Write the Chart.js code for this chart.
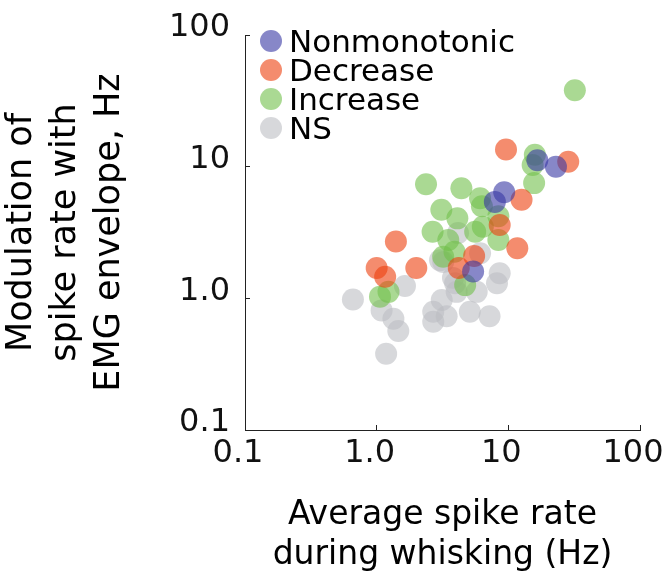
<!DOCTYPE html>
<html>
<head>
<meta charset="utf-8">
<script src="https://cdn.jsdelivr.net/npm/chart.js@4.4.1/dist/chart.umd.min.js"></script>
<style>
  html, body { margin: 0; padding: 0; background: #fff; }
  #wrap { position: relative; width: 666px; height: 586px; }
  #legend { position: absolute; left: 260px; top: 26px; font-family: "DejaVu Sans", sans-serif; font-size: 31px; color: #000; }
  .item { display: flex; align-items: center; height: 29px; }
  .dot { width: 22px; height: 22px; border-radius: 50%; margin-right: 7px; }
</style>
</head>
<body>
<div id="wrap">
  <canvas id="c"></canvas>
  <div id="legend"></div>
</div>
<script>
// ===== Data
const seriesNames = ['Nonmonotonic', 'Decrease', 'Increase', 'NS'];

const nonmonoX = [16.6, 23.0, 9.3, 7.9, 5.4];
const nonmonoY = [11.2, 10.0, 6.4, 5.4, 1.6];

const decreaseX = [9.6, 28.5, 12.6, 8.6, 11.7, 1.4, 2.0, 1.0, 1.16, 5.5, 4.2];
const decreaseY = [13.5, 10.9, 5.6, 3.6, 2.4, 2.7, 1.7, 1.7, 1.46, 2.1, 1.7];

const increaseX = [32, 15.9, 15.3, 15.7, 2.37, 4.4, 6.1, 6.3, 3.1, 4.1, 2.66, 3.5, 5.6, 8.4, 8.4, 6.4, 3.2, 3.9, 4.7, 1.23, 1.06];
const increaseY = [38, 12.3, 10.3, 7.5, 7.35, 6.85, 5.75, 5.0, 4.7, 4.05, 3.2, 2.77, 3.2, 4.2, 2.77, 3.5, 2.07, 2.26, 1.26, 1.12, 1.03];

const nsX = [0.66, 1.09, 1.34, 1.46, 1.18, 1.64, 3.12, 2.69, 3.4, 2.69, 5.1, 7.2, 5.75, 4.05, 3.94, 8.2, 8.6, 6.1, 4.15, 3.03, 3.8, 3.2];
const nsY = [0.98, 0.81, 0.70, 0.565, 0.38, 1.24, 0.97, 0.79, 0.73, 0.665, 0.79, 0.73, 1.12, 1.12, 1.30, 1.30, 1.55, 2.2, 3.13, 1.95, 1.43, 1.89];

const xTicks = [0.1, 1, 10, 100];
const xTickLabels = ['0.1', '1.0', '10', '100'];
const yTicks = [0.1, 1, 10, 100];
const yTickLabels = ['0.1', '1.0', '10', '100'];

const colors = ['rgba(55,55,163,0.6)', 'rgba(237,63,13,0.6)', 'rgba(113,192,75,0.6)', 'rgba(188,190,195,0.6)'];

// ===== Utils
const toPoints = (xs, ys) => xs.map((x, i) => ({ x, y: ys[i] }));
const FONT = '"DejaVu Sans", sans-serif';

const allX = [nonmonoX, decreaseX, increaseX, nsX];
const allY = [nonmonoY, decreaseY, increaseY, nsY];

const datasets = seriesNames.map((name, i) => ({
  label: name,
  data: toPoints(allX[i], allY[i]),
  backgroundColor: colors[i],
  borderWidth: 0,
  pointRadius: 11,
  pointHoverRadius: 11
}));

const ctx = document.getElementById('c').getContext('2d');
const chart = new Chart(ctx, {
  type: 'scatter',
  data: { datasets },
  options: {
    responsive: true,
    maintainAspectRatio: false,
    animation: false,
    layout: { padding: { left: 0, top: 35, right: 26, bottom: 0 } },
    plugins: { legend: { display: false }, tooltip: { enabled: false } },
    scales: {
      x: {
        type: 'logarithmic',
        min: 0.1, max: 100,
        afterBuildTicks: s => { s.ticks = xTicks.map(v => ({ value: v })); },
        afterFit: s => { s.height = 156; s.paddingLeft = 0; s.paddingRight = 0; },
        border: { display: true, color: '#222', width: 1 },
        grid: { drawOnChartArea: false, drawTicks: true, tickLength: -5, color: '#222', lineWidth: 1 },
        ticks: {
          autoSkip: false, maxRotation: 0, padding: 9, labelOffset: -7,
          color: '#111', font: { family: FONT, size: 32 },
          callback: (v) => xTickLabels[xTicks.indexOf(v)] ?? ''
        },
        title: {
          display: true,
          text: ['Average spike rate', 'during whisking (Hz)'],
          color: '#000',
          font: { family: FONT, size: 33, lineHeight: '40px' },
          padding: { top: 0, bottom: 11 }
        }
      },
      y: {
        type: 'logarithmic',
        min: 0.1, max: 100,
        afterBuildTicks: s => { s.ticks = yTicks.map(v => ({ value: v })); },
        afterFit: s => { s.width = 245; s.paddingTop = 0; s.paddingBottom = 0; },
        border: { display: true, color: '#222', width: 1 },
        grid: { drawOnChartArea: false, drawTicks: true, tickLength: -5, color: '#222', lineWidth: 1 },
        ticks: {
          autoSkip: false, padding: 20, labelOffset: -7,
          color: '#111', font: { family: FONT, size: 32 },
          callback: (v) => yTickLabels[yTicks.indexOf(v)] ?? ''
        },
        title: {
          display: true,
          text: ['Modulation of', 'spike rate with', 'EMG envelope, Hz'],
          color: '#000',
          font: { family: FONT, size: 35, lineHeight: '44px' },
          padding: { top: 0, bottom: 0 }
        }
      }
    }
  }
});

// ===== Legend (HTML, built from the datasets)
const legendEl = document.getElementById('legend');
chart.data.datasets.forEach(ds => {
  const row = document.createElement('div');
  row.className = 'item';
  const dot = document.createElement('span');
  dot.className = 'dot';
  dot.style.background = ds.backgroundColor;
  const txt = document.createElement('span');
  txt.textContent = ds.label;
  row.appendChild(dot);
  row.appendChild(txt);
  legendEl.appendChild(row);
});
</script>
</body>
</html>
